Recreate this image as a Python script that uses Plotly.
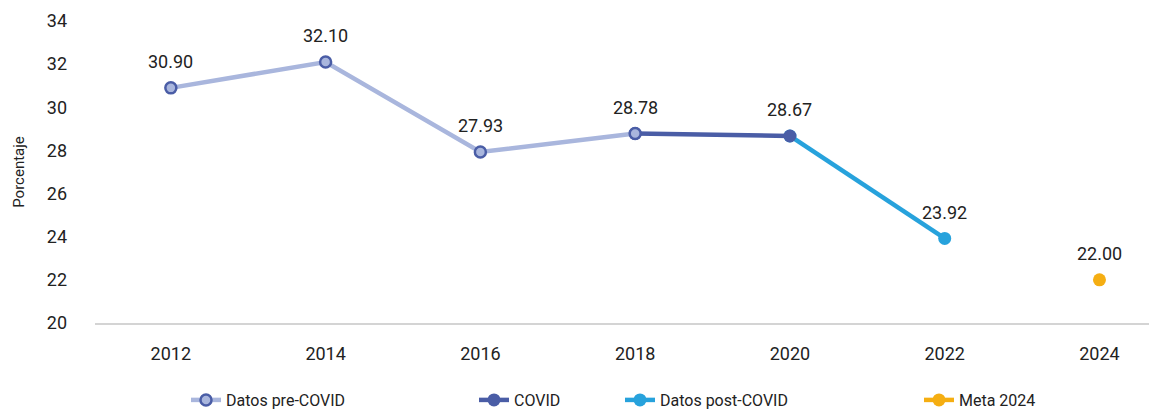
import plotly.graph_objects as go

years = ["2012", "2014", "2016", "2018", "2020", "2022", "2024"]
pre_x = ["2012", "2014", "2016", "2018"]
pre_y = [30.90, 32.10, 27.93, 28.78]
covid_x = ["2018", "2020"]
covid_y = [28.78, 28.67]
post_x = ["2020", "2022"]
post_y = [28.67, 23.92]
meta_x = ["2024"]
meta_y = [22.00]

# one data label per year
label_x = years
label_y = [30.90, 32.10, 27.93, 28.78, 28.67, 23.92, 22.00]

FONT = "Roboto, Arial"
c_pre = "#a9b6dd"
c_covid = "#4a5da6"
c_post = "#27a2dc"
c_meta = "#f5ae12"

fig = go.Figure()
fig.add_trace(go.Scatter(x=post_x, y=post_y, mode="lines+markers", name="Datos post-COVID",
                         line=dict(color=c_post, width=4.5), marker=dict(size=13, color=c_post),
                         legend="legend3"))
fig.add_trace(go.Scatter(x=covid_x, y=covid_y, mode="lines+markers", name="COVID",
                         line=dict(color=c_covid, width=4.5), marker=dict(size=13, color=c_covid),
                         legend="legend2"))
fig.add_trace(go.Scatter(x=pre_x, y=pre_y, mode="lines+markers", name="Datos pre-COVID",
                         line=dict(color=c_pre, width=4.5),
                         marker=dict(size=11, color=c_pre, line=dict(color=c_covid, width=2.5)),
                         legend="legend"))
fig.add_trace(go.Scatter(x=meta_x, y=meta_y, mode="lines+markers", name="Meta 2024",
                         line=dict(color=c_meta, width=4.5), marker=dict(size=13, color=c_meta),
                         legend="legend4"))

for xv, yv in zip(label_x, label_y):
    fig.add_annotation(x=years.index(xv), y=yv, text=f"{yv:.2f}", showarrow=False, yshift=26,
                       yanchor="middle", font=dict(family=FONT, size=18, color="#222"))

def leg(xpx):
    return dict(x=(xpx - 95) / 1054, xanchor="left", y=-0.255, yanchor="middle",
                orientation="h", font=dict(family=FONT, size=16, color="#222"),
                bgcolor="rgba(0,0,0,0)", itemwidth=30)

fig.update_layout(
    width=1149, height=410,
    margin=dict(l=95, r=0, t=21, b=87, autoexpand=False),
    paper_bgcolor="white", plot_bgcolor="white",
    font=dict(family=FONT, size=16, color="#222"),
    showlegend=True,
    legend=leg(186), legend2=leg(474), legend3=leg(620), legend4=leg(919),
    xaxis=dict(type="category", categoryorder="array", categoryarray=years,
               range=[-0.49, 6.32], showgrid=False, showline=True, linecolor="#d4d4d4",
               linewidth=2, ticks="", ticklabelstandoff=13, automargin=False,
               tickfont=dict(family=FONT, size=18, color="#222")),
    yaxis=dict(range=[20, 34], dtick=2, showgrid=False, zeroline=False, showline=False,
               ticks="", ticklabelstandoff=27, automargin=False,
               tickfont=dict(family=FONT, size=18, color="#222"),
               title=dict(text="Porcentaje", font=dict(family=FONT, size=15, color="#222"), standoff=18)),
)
fig.write_html("out.html", config={"displayModeBar": False},
               post_script="document.body.style.margin='0';")
